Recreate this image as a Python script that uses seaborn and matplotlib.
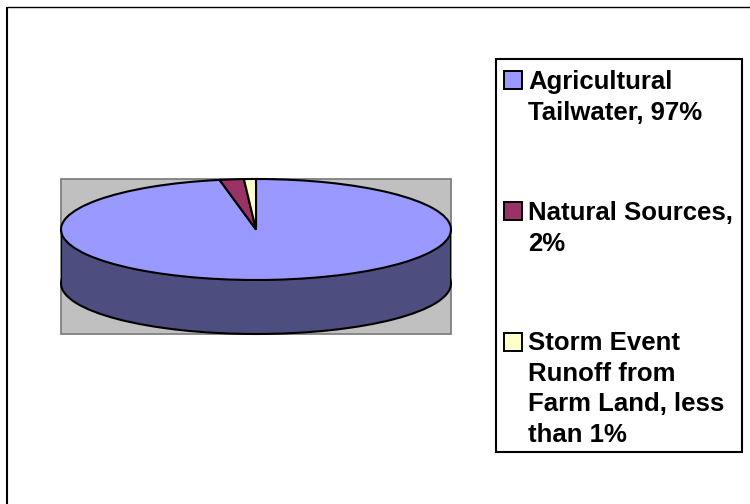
import matplotlib
matplotlib.use("Agg")
import matplotlib.pyplot as plt
from matplotlib.patches import Rectangle
import seaborn as sns

sns.set_theme(style="white")
plt.rcParams["font.family"] = ["Liberation Sans", "DejaVu Sans"]

sources = ["Agricultural\nTailwater, 97%", "Natural Sources,\n2%",
           "Storm Event\nRunoff from\nFarm Land, less\nthan 1%"]
shares = [97, 2, 0.99]
face_colors = ["#9999FF", "#993366", "#FFFFCC"]
side_color = "#4D4D80"

W, H = 750, 504
fig = plt.figure(figsize=(W / 100, H / 100), dpi=100, facecolor="white")


def px_axes(x0, y0, x1, y1):
    return fig.add_axes([x0 / W, 1 - y1 / H, (x1 - x0) / W, (y1 - y0) / H])


# Full-canvas layer for the outer frame and the legend box
bg = px_axes(0, 0, W, H)
bg.set_xlim(0, W)
bg.set_ylim(H, 0)
bg.axis("off")
bg.plot([7, 7], [H, 6.5], color="black", lw=1.5, solid_capstyle="butt")
bg.plot([7, W], [6.5, 6.5], color="black", lw=1.0, solid_capstyle="butt")
bg.add_patch(Rectangle((61, 179), 390, 155, fc="#C0C0C0", ec="#808080", lw=1.3))
bg.add_patch(Rectangle((496, 59), 246, 393, fc="white", ec="black", lw=1.5))

# Pie drawn on stretched axes so the circle becomes the tilted ellipse
ax = px_axes(61, 179, 451, 334)
ax.patch.set_alpha(0)
depth = 54 / 50.5
ax.pie(shares, colors=[side_color] * 3, startangle=90, counterclock=False,
       center=(0, -depth), radius=1, frame=False,
       wedgeprops={"edgecolor": side_color, "linewidth": 0})
ax.pie([1], colors=["none"], center=(0, -depth), radius=1, frame=False,
       wedgeprops={"edgecolor": "black", "linewidth": 1.5})
ax.fill_between([-1, 1], [-depth, -depth], [0, 0], color=side_color, lw=0)
ax.plot([-1, -1], [-depth, 0], color="black", lw=1.5)
ax.plot([1, 1], [-depth, 0], color="black", lw=1.5)
ax.pie(shares, colors=face_colors, startangle=90, counterclock=False,
       center=(0, 0), radius=1, frame=False,
       wedgeprops={"edgecolor": "black", "linewidth": 1.5})
ax.set_aspect("auto")
ax.set_xlim(-1, 1)
ax.set_ylim(-1 - depth, 1)
ax.axis("off")

# Legend entries
label_tops = [70, 201, 331]
swatch_tops = [71, 202, 333]
for name, color, ty, sy in zip(sources, face_colors, label_tops, swatch_tops):
    bg.add_patch(Rectangle((504, sy), 17.5, 17.5, fc=color, ec="black", lw=1.4))
    bg.text(528, ty, name, fontsize=18.55, fontweight="bold", color="black",
            va="top", ha="left", linespacing=1.35)

fig.savefig("out.png", dpi=100, facecolor="white")
